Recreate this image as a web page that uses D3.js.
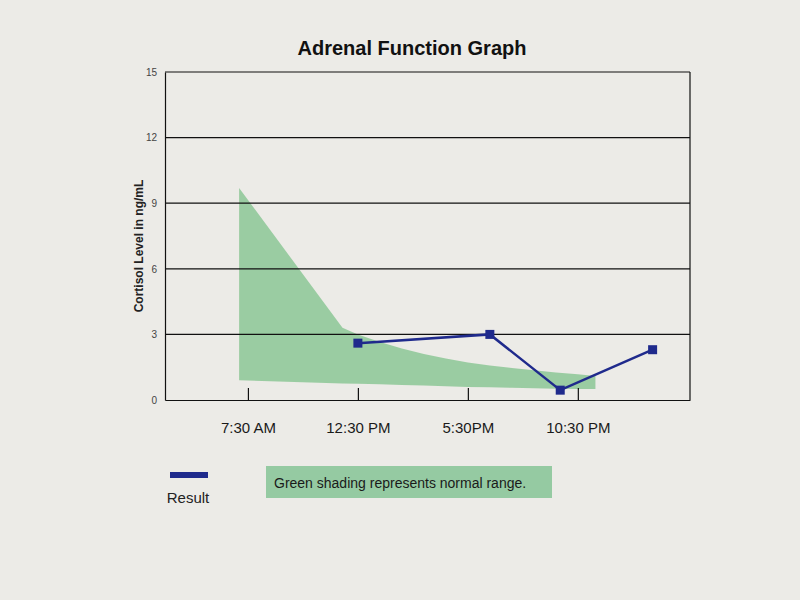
<!DOCTYPE html>
<html><head><meta charset="utf-8">
<script src="https://cdn.jsdelivr.net/npm/d3@7"></script>
<style>body{margin:0;background:#ecebe7;}svg{display:block;font-family:"Liberation Sans",Arial,sans-serif;}</style>
</head><body><svg id="c" width="800" height="600"></svg>
<script>
// Data (time in hours of day; values in ng/mL)
const tickHours = [7.5, 12.5, 17.5, 22.5];
const tickLabels = ["7:30 AM", "12:30 PM", "5:30PM", "10:30 PM"];
const yTicks = [0, 3, 6, 9, 12, 15];
const resultHours = [12.5, 18.5, 21.7, 25.9];
const resultValues = [2.6, 3.0, 0.45, 2.3];
const bandHours = [7.1, 11.8, 12.5, 13.5, 14.5, 15.5, 16.5, 17.5, 18.5, 19.5, 20.5, 21.5, 22.5, 23.3];
const bandUpper = [9.7, 3.3, 3.0, 2.65, 2.35, 2.1, 1.9, 1.72, 1.58, 1.46, 1.36, 1.26, 1.18, 1.1];
const bandLower = [0.9, 0.76, 0.74, 0.72, 0.69, 0.66, 0.63, 0.6, 0.58, 0.56, 0.54, 0.52, 0.5, 0.5];

const svg = d3.select("#c");
const L = 165, R = 690, T = 72, B = 400;
const x = d3.scaleLinear().domain([3.73, 27.6]).range([L, R]);
const y = d3.scaleLinear().domain([0, 15]).range([B, T]);

// Title
svg.append("text").attr("x", 412).attr("y", 55).attr("text-anchor", "middle")
  .attr("font-size", 20).attr("font-weight", "bold").attr("fill", "#111").text("Adrenal Function Graph");

// Normal range band
const band = bandHours.map((h, i) => ({h, u: bandUpper[i], l: bandLower[i]}));
svg.append("path").datum(band)
  .attr("d", d3.area().x(d => x(d.h)).y0(d => y(d.l)).y1(d => y(d.u)))
  .attr("fill", "#8cc795").attr("opacity", 0.85);

// Grid lines
svg.append("g").selectAll("line").data(yTicks.filter(v => v > 0)).join("line")
  .attr("x1", L).attr("x2", R).attr("y1", d => y(d)).attr("y2", d => y(d))
  .attr("stroke", "#111").attr("stroke-width", 1.2);

// Axes
const yAxis = d3.axisLeft(y).tickValues(yTicks).tickSize(0).tickPadding(8);
const gy = svg.append("g").attr("transform", `translate(${L},0)`).call(yAxis);
gy.select(".domain").attr("stroke", "#111").attr("stroke-width", 1.2);
gy.selectAll("text").attr("font-size", 10).attr("fill", "#444").attr("font-family", "Liberation Sans, Arial");

const xAxis = d3.axisBottom(x).tickValues(tickHours).tickFormat((d, i) => tickLabels[i])
  .tickSize(-12).tickSizeOuter(0).tickPadding(22);
const gx = svg.append("g").attr("transform", `translate(0,${B})`).call(xAxis);
gx.select(".domain").attr("stroke", "#111").attr("stroke-width", 1.2);
gx.selectAll(".tick line").attr("stroke", "#111").attr("stroke-width", 1.2);
gx.selectAll("text").attr("font-size", 15).attr("fill", "#1a1a1a").attr("font-family", "Liberation Sans, Arial");

// right border
svg.append("line").attr("x1", R).attr("x2", R).attr("y1", y(15)).attr("y2", y(0))
  .attr("stroke", "#111").attr("stroke-width", 1.2);

// Y axis title
svg.append("text").attr("transform", `translate(143,${(T + B) / 2 + 10}) rotate(-90)`)
  .attr("text-anchor", "middle").attr("font-size", 12).attr("font-weight", "bold").attr("fill", "#222")
  .text("Cortisol Level in ng/mL");

// Result line
const pts = resultHours.map((h, i) => ({h, v: resultValues[i]}));
svg.append("path").datum(pts)
  .attr("d", d3.line().x(d => x(d.h)).y(d => y(d.v)))
  .attr("fill", "none").attr("stroke", "#1f2a8c").attr("stroke-width", 2.5);
svg.append("g").selectAll("rect").data(pts).join("rect")
  .attr("x", d => x(d.h) - 4.5).attr("y", d => y(d.v) - 4.5).attr("width", 9).attr("height", 9)
  .attr("fill", "#1f2a8c");

// Legend
svg.append("rect").attr("x", 170).attr("y", 472).attr("width", 38).attr("height", 6).attr("fill", "#1f2a8c");
svg.append("text").attr("x", 188).attr("y", 503).attr("text-anchor", "middle")
  .attr("font-size", 15).attr("fill", "#222").text("Result");
svg.append("rect").attr("x", 266).attr("y", 466).attr("width", 286).attr("height", 32).attr("fill", "#8cc79a").attr("opacity", 0.9);
svg.append("text").attr("x", 274).attr("y", 488).attr("font-size", 14).attr("fill", "#1a1a1a")
  .text("Green shading represents normal range.");
</script></body></html>
